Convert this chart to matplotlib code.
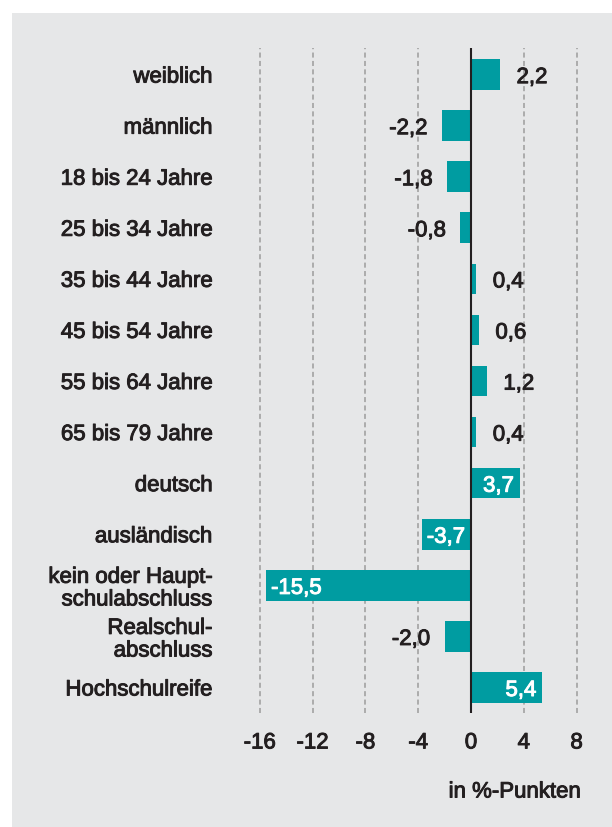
import numpy as np
import matplotlib.pyplot as plt
import matplotlib.patches as mpatches
import matplotlib.patheffects as pe

# Veränderung in Prozentpunkten je Gruppe
gruppen = ['weiblich', 'männlich', '18 bis 24 Jahre', '25 bis 34 Jahre',
           '35 bis 44 Jahre', '45 bis 54 Jahre', '55 bis 64 Jahre',
           '65 bis 79 Jahre', 'deutsch', 'ausländisch',
           'kein oder Haupt-\nschulabschluss', 'Realschul-\nabschluss',
           'Hochschulreife']
werte = [2.2, -2.2, -1.8, -0.8, 0.4, 0.6, 1.2, 0.4, 3.7, -3.7, -15.5, -2.0, 5.4]
# welche Werte im Balken stehen (weiß)
innen = [False, False, False, False, False, False, False, False,
         True, True, True, False, True]
xticks = [-16, -12, -8, -4, 0, 4, 8]

teal = '#009ca1'
grau = '#e6e7e8'
schrift = '#231f20'

plt.rcParams['font.family'] = ['Liberation Sans', 'DejaVu Sans']
plt.rcParams['font.size'] = 16


def medium(farbe):
    # etwas kräftiger als normal, aber nicht fett
    return [pe.withStroke(linewidth=0.7, foreground=farbe)]


fig = plt.figure(figsize=(6.12, 8.28), dpi=100)
fig.patch.set_facecolor('white')
fig.patches.append(mpatches.Rectangle((12 / 612, 0), 600 / 612, 1 - 14 / 828,
                                      transform=fig.transFigure,
                                      facecolor=grau, edgecolor='none', zorder=-10))

ax = fig.add_axes([253.2 / 612, 1 - 714 / 828, 330 / 612, 665 / 828])
ax.patch.set_visible(False)

y = np.arange(len(gruppen))
ax.barh(y, werte, height=0.6, color=teal, zorder=3)

for xt in xticks:
    if xt == 0:
        ax.axvline(0, color='#231f20', lw=1.5, zorder=4)
    else:
        ax.axvline(xt, color='#9c9c9c', lw=1.1, ls=(0, (3.3, 2.2)), zorder=1)

for yi, w, inn in zip(y, werte, innen):
    txt = f'{w:.1f}'.replace('.', ',')
    yy = yi + 0.06
    if inn:
        farbe = 'white'
        if w > 0:
            t = ax.text(w - 0.45, yy, txt, ha='right', va='center', color=farbe, zorder=5)
        else:
            t = ax.text(w + 0.35, yy, txt, ha='left', va='center', color=farbe, zorder=5)
    else:
        farbe = schrift
        if w > 0:
            t = ax.text(w + 1.25, yy, txt, ha='left', va='center', color=farbe, zorder=5)
        else:
            t = ax.text(w - 1.1, yy, txt, ha='right', va='center', color=farbe, zorder=5)
    t.set_path_effects(medium(farbe))

ax.set_xlim(-16.5, 8.5)
ax.set_ylim(12.5, -0.52)
ax.set_xticks(xticks)
ax.set_xticklabels([str(t) for t in xticks], color=schrift)
ax.set_yticks(y)
ax.set_yticklabels(gruppen, color=schrift)
for lab in ax.get_yticklabels():
    lab.set_linespacing(1.1)
    lab.set_path_effects(medium(schrift))
for lab in ax.get_xticklabels():
    lab.set_path_effects(medium(schrift))
ax.tick_params(axis='both', length=0)
ax.tick_params(axis='y', pad=29)
ax.tick_params(axis='x', pad=14)
for s in ax.spines.values():
    s.set_visible(False)

t = fig.text(581 / 612, 1 - 793 / 828, 'in %-Punkten', ha='right', va='center', color=schrift)
t.set_path_effects(medium(schrift))

fig.savefig('out.png', dpi=100)
